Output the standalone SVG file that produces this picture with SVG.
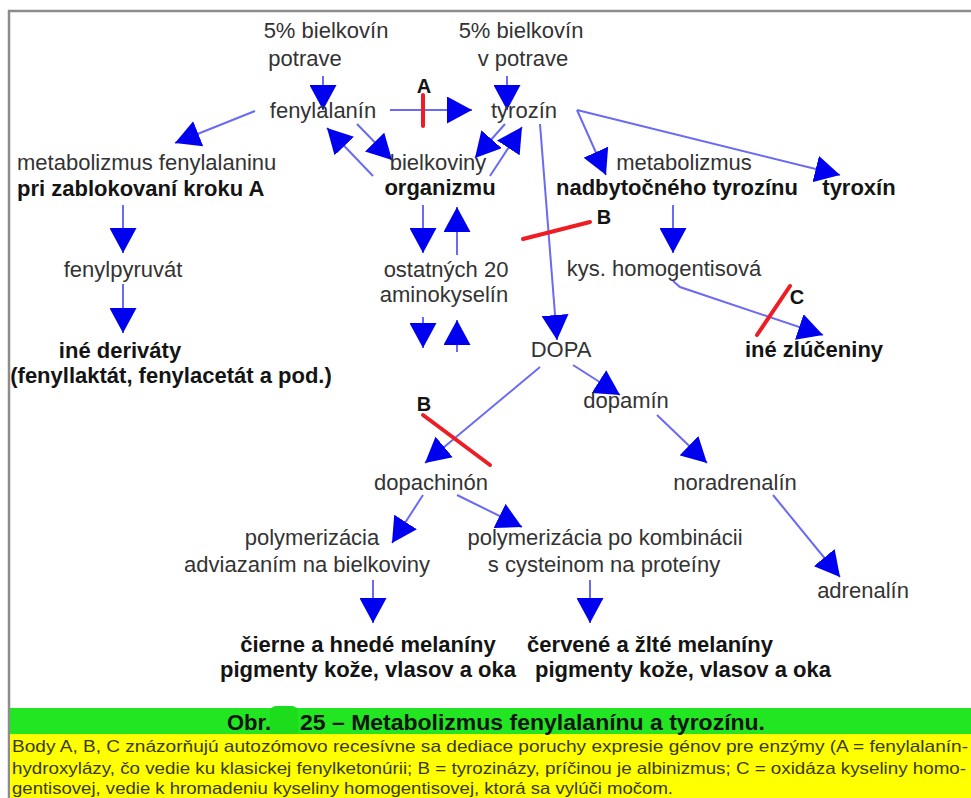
<svg xmlns="http://www.w3.org/2000/svg" width="971" height="798" viewBox="0 0 971 798">
<style>
text{font-family:"Liberation Sans",Arial,sans-serif;font-size:22px;fill:#333333;text-anchor:middle}
.b{font-weight:bold;fill:#141414}
.s{text-anchor:start}
.lbl{font-weight:bold;font-size:20px;fill:#141414}
.cap{font-size:16.5px;fill:#3a3a10;text-anchor:start}
.c{stroke:#6a6af2;stroke-width:2;fill:none;marker-end:url(#ah)}
.r{stroke:#ee1c24;stroke-width:4;stroke-linecap:round}
</style>
<defs>
<marker id="ah" viewBox="0 0 25 27" refX="25" refY="13.5" markerWidth="25" markerHeight="27" markerUnits="userSpaceOnUse" orient="auto">
<path d="M0,0 L25,13.5 L0,27 z" fill="#0000f0"/>
</marker>
</defs>
<rect width="971" height="798" fill="#ffffff"/>
<g id="frame">
<line x1="8" y1="11" x2="971" y2="11" stroke="#8c8c8c" stroke-width="2.5"/>
<line x1="9" y1="10" x2="9" y2="798" stroke="#8c8c8c" stroke-width="2.5"/>
</g>
<g id="connectors">
<line class="c" x1="323" y1="76" x2="323" y2="110"/>
<line class="c" x1="507" y1="76" x2="507" y2="110"/>
<line class="c" x1="390" y1="110" x2="472" y2="110"/>
<line class="c" x1="255" y1="111" x2="175" y2="143"/>
<line class="c" x1="357" y1="124" x2="392" y2="160"/>
<line class="c" x1="373" y1="176" x2="327" y2="128"/>
<line class="c" x1="505" y1="124" x2="475" y2="158"/>
<line class="c" x1="490" y1="176" x2="522" y2="127"/>
<line class="c" x1="540" y1="124" x2="557" y2="340"/>
<line class="c" x1="577" y1="110" x2="606" y2="175"/>
<line class="c" x1="577" y1="110" x2="840" y2="175"/>
<line class="c" x1="123" y1="205" x2="123" y2="253"/>
<line class="c" x1="123" y1="284" x2="123" y2="333"/>
<line class="c" x1="423" y1="205" x2="423" y2="253"/>
<line class="c" x1="457" y1="255" x2="457" y2="207"/>
<line class="c" x1="423" y1="317" x2="423" y2="348"/>
<line class="c" x1="457" y1="352" x2="457" y2="320"/>
<line class="c" x1="673" y1="205" x2="673" y2="253"/>
<path class="c" d="M673,281 L680,287 L823,335"/>
<line class="c" x1="540" y1="367" x2="425" y2="463"/>
<line class="c" x1="573" y1="365" x2="620" y2="395"/>
<line class="c" x1="657" y1="415" x2="707" y2="463"/>
<line class="c" x1="773" y1="495" x2="840" y2="577"/>
<line class="c" x1="423" y1="495" x2="392" y2="543"/>
<line class="c" x1="457" y1="495" x2="522" y2="527"/>
<line class="c" x1="373" y1="580" x2="373" y2="623"/>
<line class="c" x1="590" y1="580" x2="590" y2="623"/>
</g>
<g id="blocks">
<line class="r" x1="423" y1="95" x2="423" y2="126"/>
<text class="lbl" x="424" y="93">A</text>
<line class="r" x1="523" y1="239" x2="590" y2="222"/>
<text class="lbl" x="604" y="224">B</text>
<line class="r" x1="757" y1="335" x2="790" y2="286"/>
<text class="lbl" x="797" y="304">C</text>
<line class="r" x1="423" y1="415" x2="490" y2="465"/>
<text class="lbl" x="424" y="411">B</text>
</g>
<g id="n-src1"><text x="326" y="38">5% bielkovín</text><text x="305" y="66">potrave</text></g>
<g id="n-src2"><text x="521" y="38">5% bielkovín</text><text x="523" y="66">v potrave</text></g>
<g id="n-fenylalanin"><text x="323" y="118">fenylalanín</text></g>
<g id="n-tyrozin"><text x="524" y="118">tyrozín</text></g>
<g id="n-metfen"><text class="s" x="17" y="170">metabolizmus fenylalaninu</text><text class="b s" x="17" y="196">pri zablokovaní kroku A</text></g>
<g id="n-bielkoviny"><text x="438" y="170">bielkoviny</text><text class="b" x="440" y="195">organizmu</text></g>
<g id="n-metnad"><text x="684" y="170">metabolizmus</text><text class="b" x="677" y="195">nadbytočného tyrozínu</text></g>
<g id="n-tyroxin"><text class="b" x="859" y="195">tyroxín</text></g>
<g id="n-fenylpyruvat"><text x="123" y="277">fenylpyruvát</text></g>
<g id="n-ostatnych"><text x="446" y="277">ostatných 20</text><text x="444" y="302">aminokyselín</text></g>
<g id="n-kys"><text x="664" y="276">kys. homogentisová</text></g>
<g id="n-ine-der"><text class="b" x="120" y="358">iné deriváty</text><text class="b" x="171" y="383">(fenyllaktát, fenylacetát a pod.)</text></g>
<g id="n-dopa"><text x="561" y="357">DOPA</text></g>
<g id="n-ine-zl"><text class="b" x="814" y="357">iné zlúčeniny</text></g>
<g id="n-dopamin"><text x="626" y="408">dopamín</text></g>
<g id="n-dopachinon"><text x="431" y="490">dopachinón</text></g>
<g id="n-noradrenalin"><text x="735" y="490">noradrenalín</text></g>
<g id="n-polyL"><text x="312" y="545">polymerizácia</text><text x="307" y="572">adviazaním na bielkoviny</text></g>
<g id="n-polyR"><text x="605" y="545">polymerizácia po kombinácii</text><text x="604" y="572">s cysteinom na proteíny</text></g>
<g id="n-adrenalin"><text x="863" y="598">adrenalín</text></g>
<g id="n-cierne"><text class="b" x="368" y="652">čierne a hnedé melaníny</text><text class="b" x="368" y="677">pigmenty kože, vlasov a oka</text></g>
<g id="n-cervene"><text class="b" x="650" y="652">červené a žlté melaníny</text><text class="b" x="683" y="677">pigmenty kože, vlasov a oka</text></g>
<g id="caption">
<rect x="10" y="708" width="961" height="26" fill="#22e622"/>
<rect x="270" y="706" width="28" height="34" rx="6" fill="#1cdc1c"/>
<rect x="10" y="734" width="961" height="64" fill="#ffff00"/>
<text class="b s" x="227" y="730" font-size="20">Obr.</text>
<text class="b s" x="300" y="730" font-size="20" textLength="465" lengthAdjust="spacingAndGlyphs">25 – Metabolizmus fenylalanínu a tyrozínu.</text>
<text class="cap" x="12" y="752" textLength="956" lengthAdjust="spacingAndGlyphs">Body A, B, C znázorňujú autozómovo recesívne sa dediace poruchy expresie génov pre enzýmy (A = fenylalanín-</text>
<text class="cap" x="12" y="774" textLength="954" lengthAdjust="spacingAndGlyphs">hydroxylázy, čo vedie ku klasickej fenylketonúrii; B = tyrozinázy, príčinou je albinizmus; C = oxidáza kyseliny homo-</text>
<text class="cap" x="12" y="794" textLength="661" lengthAdjust="spacingAndGlyphs">gentisovej, vedie k hromadeniu kyseliny homogentisovej, ktorá sa vylúči močom.</text>
</g>
</svg>
